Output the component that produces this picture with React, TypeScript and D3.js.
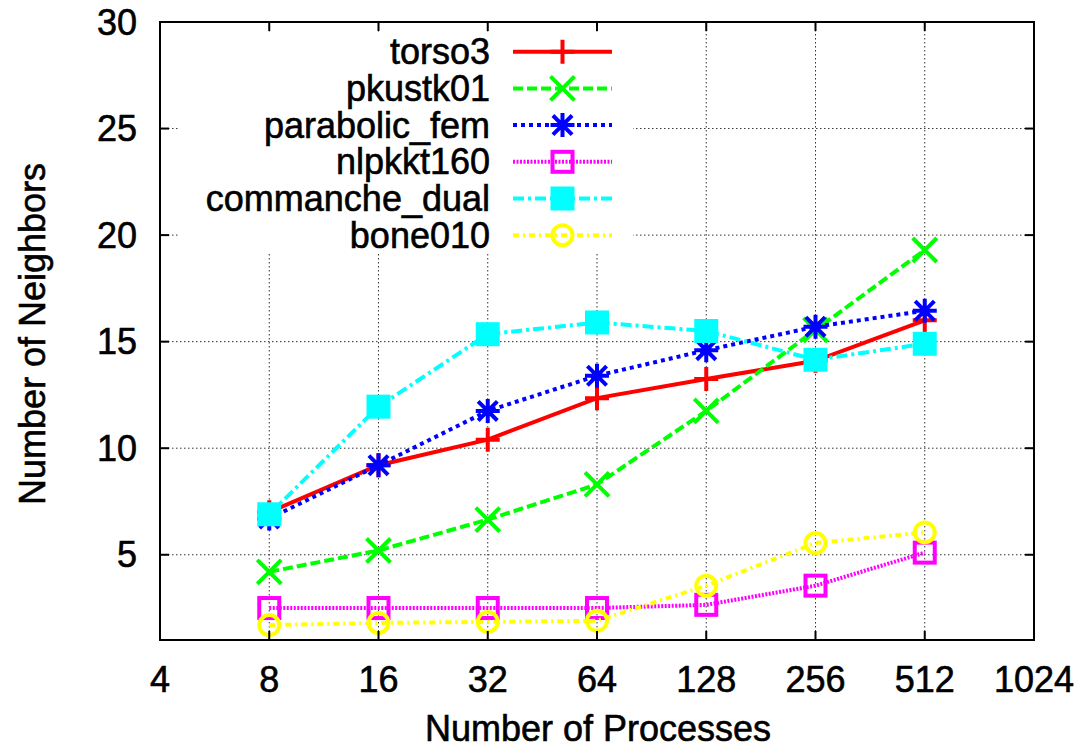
import * as d3 from 'd3';

const procs = [8, 16, 32, 64, 128, 256, 512];
const torso3 = [7.0, 9.2, 10.4, 12.35, 13.25, 14.1, 16.0];
const pkustk01 = [4.2, 5.2, 6.65, 8.3, 11.75, 15.55, 19.3];
const parabolicFem = [6.7, 9.2, 11.75, 13.4, 14.6, 15.7, 16.45];
const nlpkkt160 = [2.5, 2.5, 2.5, 2.5, 2.65, 3.55, 5.1];
const commancheDual = [6.9, 11.95, 15.35, 15.9, 15.5, 14.15, 14.9];
const bone010 = [1.7, 1.8, 1.85, 1.9, 3.55, 5.55, 6.05];

const xTicks = [4, 8, 16, 32, 64, 128, 256, 512, 1024];
const yTicks = [5, 10, 15, 20, 25, 30];

const series = [
  { name: 'torso3', values: torso3, color: '#ff0000', dash: 'none', marker: 'plus' },
  { name: 'pkustk01', values: pkustk01, color: '#00ff00', dash: '10,4', marker: 'cross' },
  { name: 'parabolic_fem', values: parabolicFem, color: '#0000ff', dash: '4,4', marker: 'star' },
  { name: 'nlpkkt160', values: nlpkkt160, color: '#ff00ff', dash: '2,1.5', marker: 'square' },
  { name: 'commanche_dual', values: commancheDual, color: '#00ffff', dash: '11,4,3,4', marker: 'fsquare' },
  { name: 'bone010', values: bone010, color: '#ffff00', dash: '6,4,2,4', marker: 'circle' },
];

const W = 1083;
const H = 749;
const L = 160, R = 1034, T = 22, B = 640;
const FONT = '"Liberation Sans", Arial, sans-serif';
const LW = 4;

function Marker({ type, x, y, color }: { type: string; x: number; y: number; color: string }) {
  const s = 12;
  const sw = 4;
  if (type === 'plus')
    return <path d={`M${x - s},${y}H${x + s}M${x},${y - s}V${y + s}`} stroke={color} strokeWidth={sw} fill="none" />;
  if (type === 'cross')
    return <path d={`M${x - s},${y - s}L${x + s},${y + s}M${x - s},${y + s}L${x + s},${y - s}`} stroke={color} strokeWidth={sw} fill="none" />;
  if (type === 'star')
    return (
      <path
        d={`M${x - s},${y}H${x + s}M${x},${y - s}V${y + s}M${x - s * 0.8},${y - s * 0.8}L${x + s * 0.8},${y + s * 0.8}M${x - s * 0.8},${y + s * 0.8}L${x + s * 0.8},${y - s * 0.8}`}
        stroke={color}
        strokeWidth={sw}
        fill="none"
      />
    );
  if (type === 'square')
    return <rect x={x - s + 2} y={y - s + 2} width={2 * s - 4} height={2 * s - 4} stroke={color} strokeWidth={sw} fill="none" />;
  if (type === 'fsquare')
    return <rect x={x - s} y={y - s} width={2 * s} height={2 * s} fill={color} />;
  return <circle cx={x} cy={y} r={s - 2} stroke={color} strokeWidth={sw} fill="none" />;
}

export default function App() {
  const x = d3.scaleLog().base(2).domain([4, 1024]).range([L, R]);
  const y = d3.scaleLinear().domain([1, 30]).range([B, T]);

  const line = d3
    .line<number>()
    .x((_, i) => x(procs[i]))
    .y((d) => y(d));

  // legend layout
  const legY0 = 51.7;
  const legStep = 36.7;
  const legTextX = 490;
  const legX1 = 513;
  const legX2 = 612;

  const txt = { fontSize: 36, fill: '#000', stroke: '#000', strokeWidth: 0.6 };

  return (
    <svg width={W} height={H} style={{ position: 'absolute', left: 0, top: 0, background: '#fff' }} fontFamily={FONT}>
      <rect width={W} height={H} fill="#fff" />

      {/* grid */}
      {xTicks.slice(1, -1).map((t) => (
        <line key={'gx' + t} x1={x(t)} x2={x(t)} y1={T} y2={B} stroke="#333" strokeWidth={1} strokeDasharray="1.5,2.5" />
      ))}
      {yTicks.slice(0, -1).map((t) => (
        <line key={'gy' + t} x1={L} x2={R} y1={y(t)} y2={y(t)} stroke="#333" strokeWidth={1} strokeDasharray="1.5,2.5" />
      ))}

      {/* series */}
      {series.map((s) => (
        <g key={s.name}>
          <path d={line(s.values)!} fill="none" stroke={s.color} strokeWidth={LW} strokeDasharray={s.dash} />
          {s.values.map((v, i) => (
            <Marker key={i} type={s.marker} x={x(procs[i])} y={y(v)} color={s.color} />
          ))}
        </g>
      ))}

      {/* opaque key */}
      <rect x={180} y={32} width={453} height={221} fill="#fff" />
      {series.map((s, i) => {
        const cy = legY0 + i * legStep;
        return (
          <g key={'leg' + s.name}>
            <text x={legTextX} y={cy + 12.5} textAnchor="end" {...txt}>
              {s.name}
            </text>
            <line x1={legX1} x2={legX2} y1={cy} y2={cy} stroke={s.color} strokeWidth={LW} strokeDasharray={s.dash} />
            <Marker type={s.marker} x={(legX1 + legX2) / 2} y={cy} color={s.color} />
          </g>
        );
      })}

      {/* border and ticks */}
      <rect x={L} y={T} width={R - L} height={B - T} fill="none" stroke="#000" strokeWidth={2} />
      {xTicks.slice(1, -1).map((t) => (
        <g key={'tx' + t}>
          <line x1={x(t)} x2={x(t)} y1={B} y2={B - 9} stroke="#000" strokeWidth={2} />
          <line x1={x(t)} x2={x(t)} y1={T} y2={T + 9} stroke="#000" strokeWidth={2} />
        </g>
      ))}
      {yTicks.slice(0, -1).map((t) => (
        <g key={'ty' + t}>
          <line x1={L} x2={L + 9} y1={y(t)} y2={y(t)} stroke="#000" strokeWidth={2} />
          <line x1={R} x2={R - 9} y1={y(t)} y2={y(t)} stroke="#000" strokeWidth={2} />
        </g>
      ))}

      {/* tick labels */}
      {xTicks.map((t) => (
        <text key={'lx' + t} x={x(t)} y={692} textAnchor="middle" {...txt}>
          {t}
        </text>
      ))}
      {yTicks.map((t) => (
        <text key={'ly' + t} x={137} y={y(t) + 12.5} textAnchor="end" {...txt}>
          {t}
        </text>
      ))}

      {/* axis titles */}
      <text x={(L + R) / 2 + 1} y={741} textAnchor="middle" {...txt}>
        Number of Processes
      </text>
      <text transform={`translate(45,334) rotate(-90)`} textAnchor="middle" {...txt}>
        Number of Neighbors
      </text>
    </svg>
  );
}
